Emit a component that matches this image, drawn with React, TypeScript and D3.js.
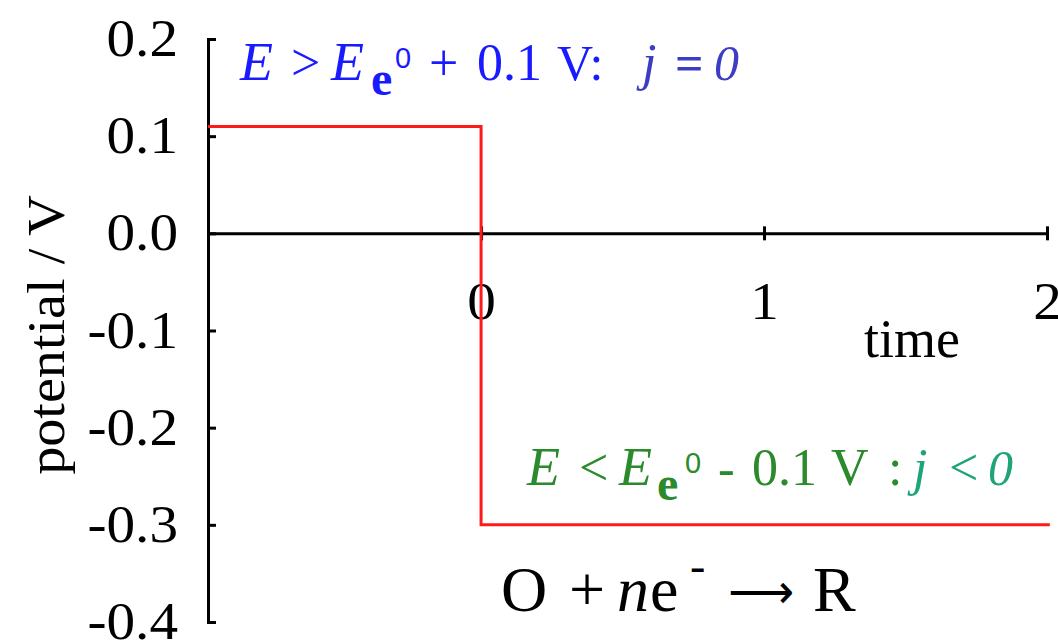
import React, { useEffect, useRef } from "react";
import * as d3 from "d3";

// Potential step: time axis values and the applied potential at each vertex
const stepTimes = [-0.965, 0, 0, 2.01];
const stepPotentials = [0.11, 0.11, -0.3, -0.3];

// Axis definitions
const timeDomain = [-0.965, 2];
const timeTicks = [0, 1, 2];
const potentialDomain = [-0.4, 0.2];
const potentialTicks = [0.2, 0.1, 0.0, -0.1, -0.2, -0.3, -0.4];

const yAxisTitle = "potential / V";
const xAxisTitle = "time";

const W = 1058;
const H = 642;
const SERIF = "'Liberation Serif', 'Times New Roman', serif";
const SANS = "'Liberation Sans', Arial, sans-serif";

const BLUE = "#1a1aff";
const BLUE_J = "#3c3cc4";
const GREEN = "#2b8a2b";
const GREEN_J = "#1ea37a";

export default function App() {
  const ref = useRef<SVGGElement | null>(null);

  useEffect(() => {
    const root = d3.select(ref.current);
    root.selectAll("*").remove();

    const x = d3.scaleLinear().domain(timeDomain).range([208, 1047]);
    const y = d3.scaleLinear().domain(potentialDomain).range([622, 39]);

    const fmt = (d: number) => (Math.abs(d) < 1e-9 ? 0 : d).toFixed(1);

    // y axis: ticks pointing inward, labels on the left
    const yAxis = d3
      .axisLeft(y)
      .tickValues(potentialTicks)
      .tickSizeInner(-8)
      .tickSizeOuter(-8)
      .tickPadding(30)
      .tickFormat(fmt as any);
    const gy = root.append("g").attr("transform", `translate(${x(timeDomain[0])},0)`).call(yAxis);
    gy.selectAll("path, line").attr("stroke", "#000").attr("stroke-width", 3);
    gy.selectAll("text")
      .attr("x", 0)
      .attr("transform", "translate(-30,0) scale(1.1,1)")
      .attr("font-family", SERIF)
      .attr("font-size", 52)
      .attr("fill", "#000");

    // x axis through zero potential, ticks crossing the line
    const xAxis = d3
      .axisBottom(x)
      .tickValues(timeTicks)
      .tickSizeInner(7)
      .tickSizeOuter(0)
      .tickPadding(42)
      .tickFormat(d3.format("d") as any);
    const gx = root.append("g").attr("transform", `translate(0,${y(0)})`).call(xAxis);
    gx.selectAll("path, line").attr("stroke", "#000").attr("stroke-width", 3);
    gx.selectAll(".tick line").attr("y1", -7);
    gx.selectAll("text")
      .attr("transform", "scale(1.1,1)")
      .attr("font-family", SERIF)
      .attr("font-size", 52)
      .attr("fill", "#000");

    // red potential step
    const pts = stepTimes.map((t, i) => [t, stepPotentials[i]] as [number, number]);
    const line = d3
      .line<[number, number]>()
      .x((d) => x(d[0]))
      .y((d) => y(d[1]));
    root
      .append("path")
      .attr("d", line(pts))
      .attr("fill", "none")
      .attr("stroke", "#ff1a1a")
      .attr("stroke-width", 3);
  }, []);

  return (
    <svg
      width={W}
      height={H}
      style={{ position: "absolute", left: 0, top: 0, background: "#fff" }}
    >
      <g ref={ref} />

      {/* axis titles */}
      <text
        transform="translate(64,335) rotate(-90) scale(1.08,1)"
        textAnchor="middle"
        fontFamily={SERIF}
        fontSize={52}
        fill="#000"
      >
        {yAxisTitle}
      </text>
      <text x={864} y={357} fontFamily={SERIF} fontSize={54} fill="#000">
        {xAxisTitle}
      </text>

      {/* condition above the formal potential */}
      <g fontFamily={SERIF} fill={BLUE}>
        <text x={240} y={80} fontSize={54} fontStyle="italic">E</text>
        <text x={291} y={80} fontSize={52}>&gt;</text>
        <text x={331} y={80} fontSize={54} fontStyle="italic">E</text>
        <text x={371} y={95} fontSize={48} fontWeight="bold">e</text>
        <text x={395} y={68} fontSize={29} fontFamily={SANS}>0</text>
        <text x={429} y={80} fontSize={52}>+</text>
        <text x={477} y={80} fontSize={52}>0.1</text>
        <text x={557} y={80} fontSize={50}>V:</text>
        <g fill={BLUE_J}>
          <text x={642} y={80} fontSize={52} fontStyle="italic">j</text>
          <text x={675} y={80} fontSize={50} fontWeight="bold">=</text>
          <text x={714} y={80} fontSize={50} fontStyle="italic">0</text>
        </g>
      </g>

      {/* condition below the formal potential */}
      <g fontFamily={SERIF} fill={GREEN}>
        <text x={527} y={485} fontSize={54} fontStyle="italic">E</text>
        <text x={579} y={485} fontSize={52}>&lt;</text>
        <text x={619} y={485} fontSize={54} fontStyle="italic">E</text>
        <text x={657} y={500} fontSize={48} fontWeight="bold">e</text>
        <text x={685} y={473} fontSize={29} fontFamily={SANS}>0</text>
        <text x={718} y={485} fontSize={50}>-</text>
        <text x={752} y={485} fontSize={52}>0.1</text>
        <text x={831} y={485} fontSize={52}>V</text>
        <text x={888} y={485} fontSize={52}>:</text>
        <g fill={GREEN_J}>
          <text x={913} y={485} fontSize={52} fontStyle="italic">j</text>
          <text x={949} y={485} fontSize={52}>&lt;</text>
          <text x={988} y={485} fontSize={50} fontStyle="italic">0</text>
        </g>
      </g>

      {/* reduction reaction */}
      <g fontFamily={SERIF} fill="#000" fontSize={64}>
        <text x={501} y={611}>O</text>
        <text x={569} y={611}>+</text>
        <text x={617} y={611} fontStyle="italic">n</text>
        <text x={650} y={611}>e</text>
        <text x={690} y={581} fontSize={46}>-</text>
        <text
          x={728}
          y={608}
          fontFamily="'DejaVu Sans', sans-serif"
          fontSize={48}
          textLength={66}
          lengthAdjust="spacingAndGlyphs"
        >
          ⟶
        </text>
        <text x={813} y={611}>R</text>
      </g>
    </svg>
  );
}
